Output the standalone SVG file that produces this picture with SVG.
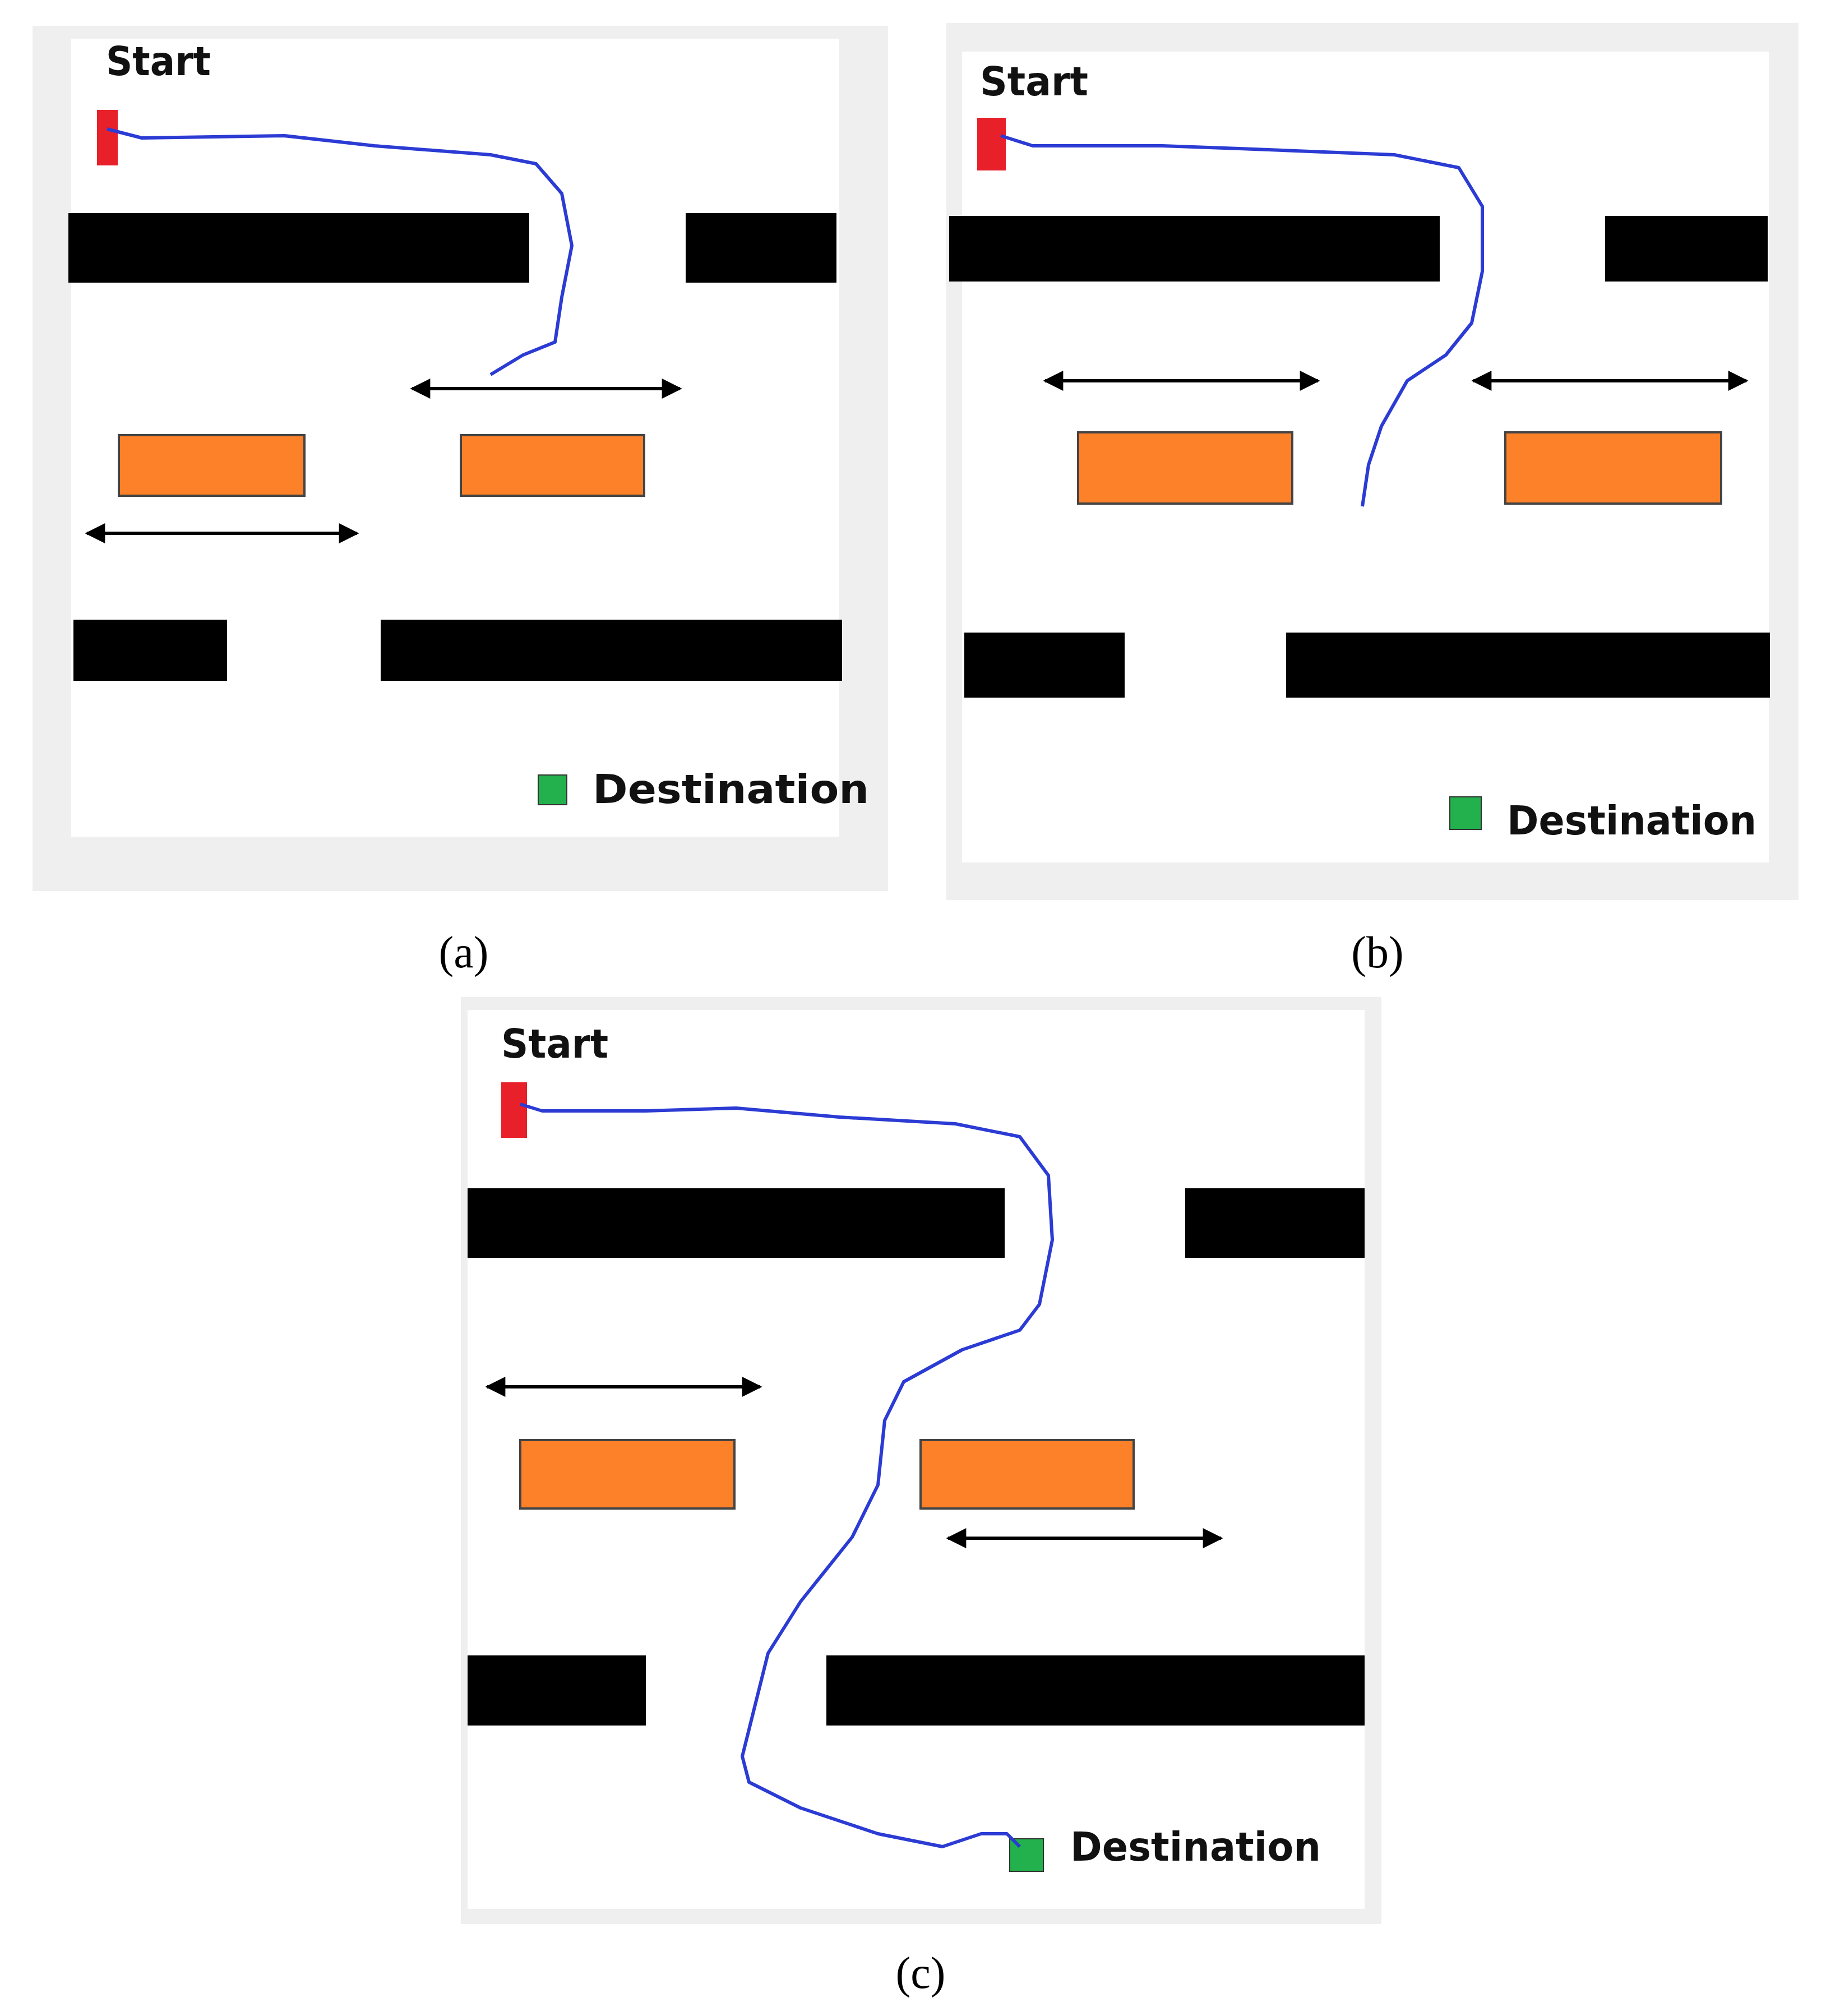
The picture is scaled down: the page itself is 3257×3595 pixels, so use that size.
<svg xmlns="http://www.w3.org/2000/svg" width="3257" height="3595" viewBox="0 0 3257 3595">
<style>
.frame{fill:#efefef}.field{fill:#fff}.wall{fill:#000}.box{fill:#fd8128;stroke:#444;stroke-width:4}
.start{fill:#e8202a}.dest{fill:#22b14c;stroke:#333;stroke-width:2}
.lbl{font-family:"DejaVu Sans",sans-serif;font-weight:bold;font-size:72px;fill:#111}
.cap{font-family:"Liberation Serif",serif;font-size:80px;fill:#000}
.path{fill:none;stroke:#2b3bd4;stroke-width:6;stroke-linejoin:round}
.arr{stroke:#000;stroke-width:6;marker-start:url(#ah);marker-end:url(#ah)}
</style>
<defs><marker id="ah" viewBox="0 0 10 10" refX="9" refY="5" markerWidth="7" markerHeight="6" orient="auto-start-reverse" markerUnits="strokeWidth"><path d="M0,0 L10,5 L0,10 Z" fill="#000"/></marker></defs>
<rect width="3257" height="3595" fill="#fff"/>
<g id="panel-a">
<rect class="frame" x="58" y="46" width="1526" height="1543"/>
<rect class="field" x="127" y="69" width="1370" height="1423"/>
<rect class="wall" x="122" y="380" width="822" height="124"/><rect class="wall" x="1223" y="380" width="269" height="124"/>
<rect class="box" x="212" y="776" width="331" height="108"/><rect class="box" x="822" y="776" width="327" height="108"/>
<rect class="wall" x="131" y="1105" width="274" height="109"/><rect class="wall" x="679" y="1105" width="823" height="109"/>
<rect class="start" x="173" y="196" width="37" height="99"/>
<rect class="dest" x="960" y="1382" width="51" height="53"/>
<text class="lbl" x="189" y="134" textLength="187" lengthAdjust="spacingAndGlyphs">Start</text><text class="lbl" x="1057" y="1432" textLength="493" lengthAdjust="spacingAndGlyphs">Destination</text>
<text class="cap" x="827" y="1725" text-anchor="middle">(a)</text>
</g>
<g id="panel-b">
<rect class="frame" x="1688" y="41" width="1520" height="1564"/>
<rect class="field" x="1716" y="92" width="1439" height="1446"/>
<rect class="wall" x="1693" y="385" width="875" height="117"/><rect class="wall" x="2863" y="385" width="290" height="117"/>
<rect class="box" x="1923" y="771" width="382" height="127"/><rect class="box" x="2685" y="771" width="385" height="127"/>
<rect class="wall" x="1720" y="1128" width="286" height="116"/><rect class="wall" x="2294" y="1128" width="863" height="116"/>
<rect class="start" x="1743" y="210" width="51" height="94"/>
<rect class="dest" x="2586" y="1421" width="56" height="58"/>
<text class="lbl" x="1748" y="170" textLength="193" lengthAdjust="spacingAndGlyphs">Start</text><text class="lbl" x="2688" y="1488" textLength="445" lengthAdjust="spacingAndGlyphs">Destination</text>
<text class="cap" x="2457" y="1725" text-anchor="middle">(b)</text>
</g>
<g id="panel-c">
<rect class="frame" x="822" y="1778" width="1642" height="1653"/>
<rect class="field" x="834" y="1801" width="1600" height="1603"/>
<rect class="wall" x="834" y="2119" width="958" height="124"/><rect class="wall" x="2114" y="2119" width="320" height="124"/>
<rect class="box" x="928" y="2568" width="382" height="122"/><rect class="box" x="1642" y="2568" width="380" height="122"/>
<rect class="wall" x="834" y="2952" width="318" height="125"/><rect class="wall" x="1474" y="2952" width="960" height="125"/>
<rect class="start" x="894" y="1930" width="46" height="99"/>
<rect class="dest" x="1801" y="3279" width="60" height="58"/>
<text class="lbl" x="894" y="1886" textLength="191" lengthAdjust="spacingAndGlyphs">Start</text><text class="lbl" x="1909" y="3318" textLength="447" lengthAdjust="spacingAndGlyphs">Destination</text>
<text class="cap" x="1642" y="3545" text-anchor="middle">(c)</text>
</g>
<g id="connectors">
<line class="arr" x1="735" y1="693" x2="1213" y2="693"/>
<line class="arr" x1="155" y1="951" x2="637" y2="951"/>
<line class="arr" x1="1864" y1="679" x2="2351" y2="679"/>
<line class="arr" x1="2628" y1="679" x2="3115" y2="679"/>
<line class="arr" x1="869" y1="2473" x2="1356" y2="2473"/>
<line class="arr" x1="1691" y1="2743" x2="2178" y2="2743"/>
<polyline class="path" points="191,230 253,246 507,242 668,260 875,276 956,292 1002,345 1020,438 1002,530 990,610 933,633 875,668"/>
<polyline class="path" points="1785,242 1842,260 2073,260 2211,265 2487,276 2602,299 2644,368 2644,484 2625,576 2579,633 2510,679 2464,760 2441,829 2430,903"/>
<polyline class="path" points="928,1969 967,1981 1152,1981 1313,1976 1497,1992 1704,2004 1819,2027 1870,2096 1877,2211 1854,2326 1819,2372 1716,2407 1612,2464 1578,2533 1566,2648 1520,2741 1428,2856 1370,2948 1347,3040 1324,3132 1336,3178 1428,3224 1566,3270 1681,3293 1750,3270 1796,3270 1819,3293"/>
</g>
</svg>
